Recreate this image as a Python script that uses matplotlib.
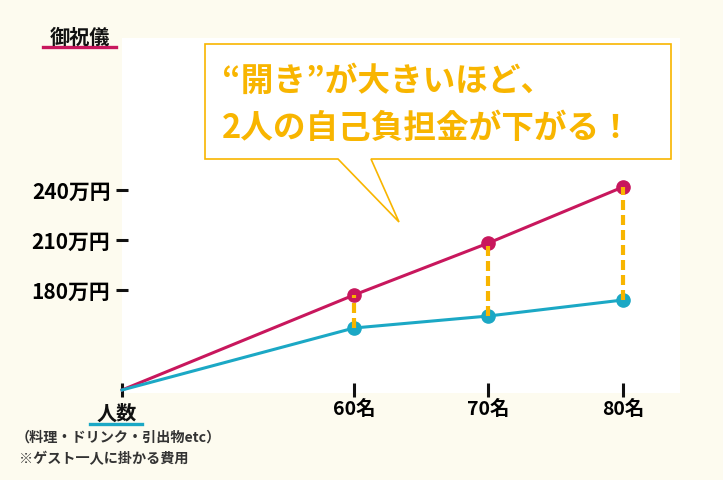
import matplotlib
matplotlib.use("Agg")
import matplotlib.pyplot as plt
from matplotlib.patches import Polygon
from matplotlib.lines import Line2D

plt.rcParams['font.family'] = ['Noto Sans CJK JP', 'DejaVu Sans']

# ---- data ----
guests = [60, 70, 80]
guest_labels = ['60名', '70名', '80名']
gift_total = [177, 208.2, 241.8]      # 御祝儀 (万円)
guest_cost = [157.2, 164.4, 174.0]    # ゲスト費用 (万円)
y_ticks = [180, 210, 240]
y_tick_labels = ['180万円', '210万円', '240万円']
origin_x, origin_y = 42.75, 120

RED = '#c8175d'
TEAL = '#1ba8c5'
ORANGE = '#f8b500'
BG = '#fdfbef'
INK = '#111111'

W, H = 723, 480
def fx(px): return px / W
def fy(py): return 1 - py / H

fig = plt.figure(figsize=(7.23, 4.8), dpi=100, facecolor=BG)
ax = fig.add_axes([fx(122), 1 - 393 / H, 558 / W, 355 / H])
ax.set_facecolor('white')
ax.set_xlim(42.75, 84.24)
ax.set_ylim(118.2, 331.2)
for s in ax.spines.values():
    s.set_visible(False)
ax.spines['bottom'].set_position(('data', origin_y))

xs = [origin_x] + guests
ax.plot(xs, [origin_y] + gift_total, color=RED, lw=2.2, marker='o', ms=9.5,
        markevery=[1, 2, 3], zorder=3, clip_on=False)
ax.plot(xs, [origin_y] + guest_cost, color=TEAL, lw=2.2, marker='o', ms=9.5,
        markevery=[1, 2, 3], zorder=3, clip_on=False)
ax.vlines(guests, guest_cost, gift_total, colors=ORANGE, lw=3,
          linestyles=(0, (2.4, 1.2)), zorder=4)

ax.set_xticks([origin_x] + guests)
ax.set_xticklabels([''] + guest_labels, fontsize=14, fontweight='bold')
ax.set_yticks(y_ticks)
ax.set_yticklabels(y_tick_labels, fontsize=15, fontweight='bold')
ax.tick_params(axis='x', direction='inout', length=10, width=2.2, color=INK, pad=2)
ax.tick_params(axis='y', direction='inout', length=8.6, width=2.2, color=INK, pad=4)

# axis titles
fig.text(fx(80), fy(37), '御祝儀', ha='center', va='center', fontsize=14.5,
         fontweight='bold', color=INK)
fig.add_artist(Line2D([fx(43), fx(116)], [fy(47)] * 2, color=RED, lw=2.4))
fig.text(fx(117), fy(413), '人数', ha='center', va='center', fontsize=14.5,
         fontweight='bold', color=INK)
fig.add_artist(Line2D([fx(90), fx(142)], [fy(424)] * 2, color=TEAL, lw=2.4))

fig.text(fx(16), fy(438), '（料理・ドリンク・引出物etc）', ha='left', va='center',
         fontsize=10.2, fontweight='bold', color='#333333')
fig.text(fx(19), fy(459), '※ゲスト一人に掛かる費用', ha='left', va='center',
         fontsize=10.2, fontweight='bold', color='#333333')

# callout
pts = [(205, 44), (671, 44), (671, 159), (371, 159), (399, 222), (338, 159), (205, 159)]
callout = Polygon([(fx(a), fy(b)) for a, b in pts], closed=True, transform=fig.transFigure,
                  facecolor='white', edgecolor=ORANGE, lw=1.2, zorder=5)
fig.add_artist(callout)
fig.text(fx(222), fy(81), '“開き”が大きいほど、', ha='left', va='center', fontsize=23.5,
         fontweight='bold', color=ORANGE, zorder=6)
fig.text(fx(222), fy(128), '2人の自己負担金が下がる！', ha='left', va='center', fontsize=23.5,
         fontweight='bold', color=ORANGE, zorder=6)

fig.savefig('out.png', dpi=100, facecolor=BG)
